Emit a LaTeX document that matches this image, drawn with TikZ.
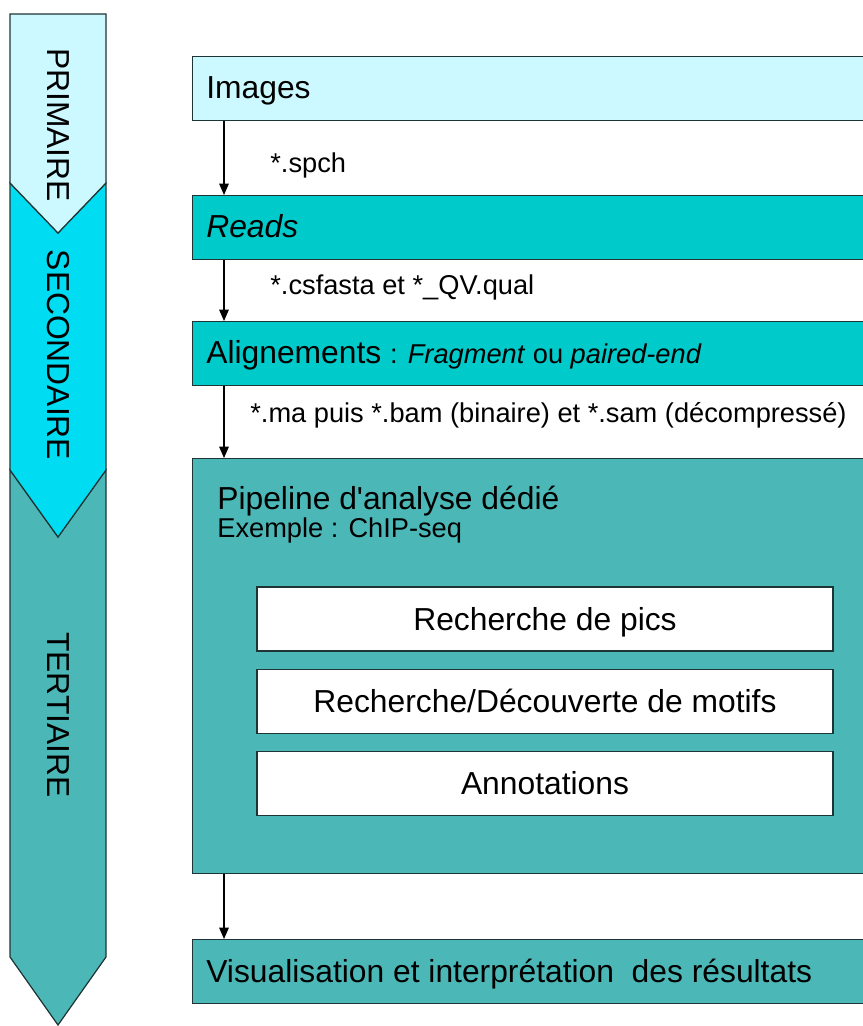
\documentclass[tikz,border=0pt]{standalone}
\usepackage{fontspec}
\setmainfont{Liberation Sans}[Ligatures=TeXOff]
\usepackage{xcolor}
\usetikzlibrary{positioning, calc, arrows.meta}

\definecolor{primc}{HTML}{CCF9FF}
\definecolor{secc}{HTML}{00DCF2}
\definecolor{tertc}{HTML}{4BB8B7}
\definecolor{readc}{HTML}{00CACA}
\definecolor{edgec}{HTML}{1F3535}

\newcommand{\boxfont}{\fontsize{18.1pt}{21pt}\selectfont}
\newcommand{\lblfont}{\fontsize{15.5pt}{18pt}\selectfont}

\begin{document}
\begin{tikzpicture}[
    x=0.02cm, y=-0.02cm,
    >={Triangle[width=5.5pt,length=6.5pt]},
    bar/.style={draw=edgec, line width=0.7pt, minimum width=14.16cm, minimum height=1.28cm, inner sep=0pt, anchor=north west},
    inbox/.style={draw=edgec, fill=white, line width=0.7pt, minimum width=11.52cm, minimum height=1.28cm, text depth=0pt, font=\boxfont},
    txt/.style={font=\boxfont, anchor=base west, inner sep=0pt},
    lbl/.style={font=\lblfont, anchor=base west, inner sep=0pt},
    arr/.style={->, line width=0.6pt, color=black},
    phase/.style={draw=edgec, line width=0.7pt},
    vlbl/.style={font=\boxfont, rotate=-90, inner sep=0pt},
]
\useasboundingbox (0,0) rectangle (862,1026);

% ===== Phase band (left) =====
\draw[phase, fill=tertc] (10,470) -- (58,537) -- (106,470) -- (106,957) -- (58,1025) -- (10,957) -- cycle;
\draw[phase, fill=secc] (10,183) -- (58,233) -- (106,183) -- (106,470) -- (58,537) -- (10,470) -- cycle;
\draw[phase, fill=primc] (10,14) -- (106,14) -- (106,183) -- (58,233) -- (10,183) -- cycle;

\node[vlbl] (ph1) at (58,125) {PRIMAIRE};
\node[vlbl] (ph2) at (58,355) {SECONDAIRE};
\node[vlbl] (ph3) at (58,715) {TERTIAIRE};

% ===== Steps =====
\node[bar, fill=primc] (images) at (192,56) {};
\node[bar, fill=readc] (reads) at (192,195) {};
\node[bar, fill=readc] (align) at (192,321) {};
\node[bar, fill=tertc, minimum height=8.3cm] (pipe) at (192,458) {};
\node[bar, fill=tertc] (visu) at (192,939) {};

\node[txt] (timages) at (206,99) {Images};
\node[txt] (treads) at (206,238) {\itshape Reads};
\node[txt] (talign) at (206,364) {Alignements {\lblfont : \textit{Fragment} ou \textit{paired-end}}};
\node[txt] (tpipe) at (217,509) {Pipeline d'analyse dédié};
\node[lbl] (texmp) at (217,537) {Exemple : ChIP-seq};
\node[txt] (tvisu) at (206,982) {Visualisation et interprétation\ \ des résultats};

% ===== Inner pipeline steps =====
\node[inbox] (pics) at (545,619) {Recherche de pics};
\node[inbox, below=0.34cm of pics] (motifs) {Recherche/Découverte de motifs};
\node[inbox, below=0.34cm of motifs] (annot) {Annotations};

% ===== Arrows and file formats =====
\coordinate (ax) at (224,0);
\draw[arr] (ax |- images.south) -- (ax |- reads.north);
\draw[arr] (ax |- reads.south) -- (ax |- align.north);
\draw[arr] (ax |- align.south) -- (ax |- pipe.north);
\draw[arr] (ax |- pipe.south) -- (ax |- visu.north);

\node[lbl] (f1) at (270,173) {*.spch};
\node[lbl] (f2) at (270,295) {*.csfasta et *\_QV.qual};
\node[lbl] (f3) at (250,422) {*.ma puis *.bam (binaire) et *.sam (décompressé)};

\end{tikzpicture}
\end{document}
